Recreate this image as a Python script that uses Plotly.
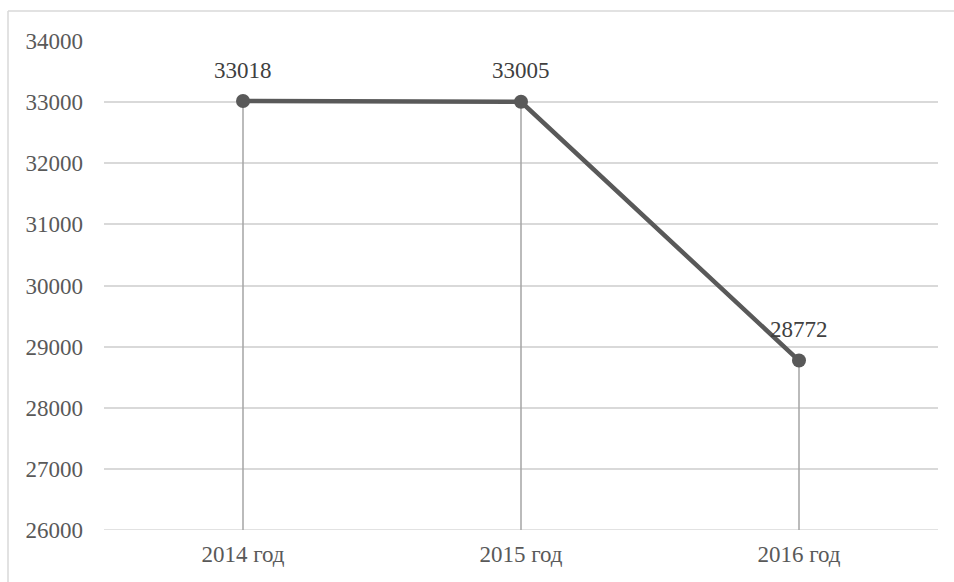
import plotly.graph_objects as go

# Data
years = ["2014 год", "2015 год", "2016 год"]
values = [33018, 33005, 28772]
y_ticks = [26000, 27000, 28000, 29000, 30000, 31000, 32000, 33000, 34000]
y_min, y_max = 26000, 34000

FONT = "Liberation Serif"

fig = go.Figure()

# vertical drop lines from each point to the axis floor
drop_x, drop_y = [], []
for yr, v in zip(years, values):
    drop_x += [yr, yr, None]
    drop_y += [y_min, v, None]
fig.add_trace(go.Scatter(
    x=drop_x, y=drop_y, mode="lines",
    line=dict(color="#a5a5a5", width=1.5),
    hoverinfo="skip", showlegend=False,
))

# main series
fig.add_trace(go.Scatter(
    x=years, y=values, mode="lines+markers",
    line=dict(color="#595959", width=4.5),
    marker=dict(color="#595959", size=14),
    showlegend=False,
))

# value labels above the points
annotations = [
    dict(x=yr, y=v, text=str(v), showarrow=False, yshift=31,
         font=dict(family=FONT, size=23, color="#404040"))
    for yr, v in zip(years, values)
]

fig.update_layout(
    width=954, height=582,
    margin=dict(l=104, r=16, t=41, b=52),
    paper_bgcolor="white", plot_bgcolor="white",
    font=dict(family=FONT, size=23, color="#595959"),
    annotations=annotations,
    xaxis=dict(
        type="category", range=[-0.5, 2.5],
        showgrid=False, zeroline=False, showline=False,
        ticks="", ticklabelstandoff=8,
    ),
    yaxis=dict(
        range=[y_min, y_max], tickvals=y_ticks, tickformat="d",
        showgrid=True, gridcolor="#d9d9d9", gridwidth=1.5,
        zeroline=False, showline=False, ticks="",
        ticklabelstandoff=20,
    ),
    shapes=[
        # baseline gridline at the axis floor
        dict(type="line", xref="paper", yref="y",
             x0=0, x1=1, y0=y_min, y1=y_min, layer="below",
             line=dict(color="#d9d9d9", width=1.5)),
        # chart frame (left and top edges)
        dict(type="line", xref="paper", yref="paper",
             x0=-0.1151, x1=-0.1151, y0=1.0613, y1=-0.12,
             line=dict(color="#d9d9d9", width=1.5)),
        dict(type="line", xref="paper", yref="paper",
             x0=-0.1151, x1=1.03, y0=1.0613, y1=1.0613,
             line=dict(color="#d9d9d9", width=1.5)),
    ],
)

fig.write_html("out.html")
